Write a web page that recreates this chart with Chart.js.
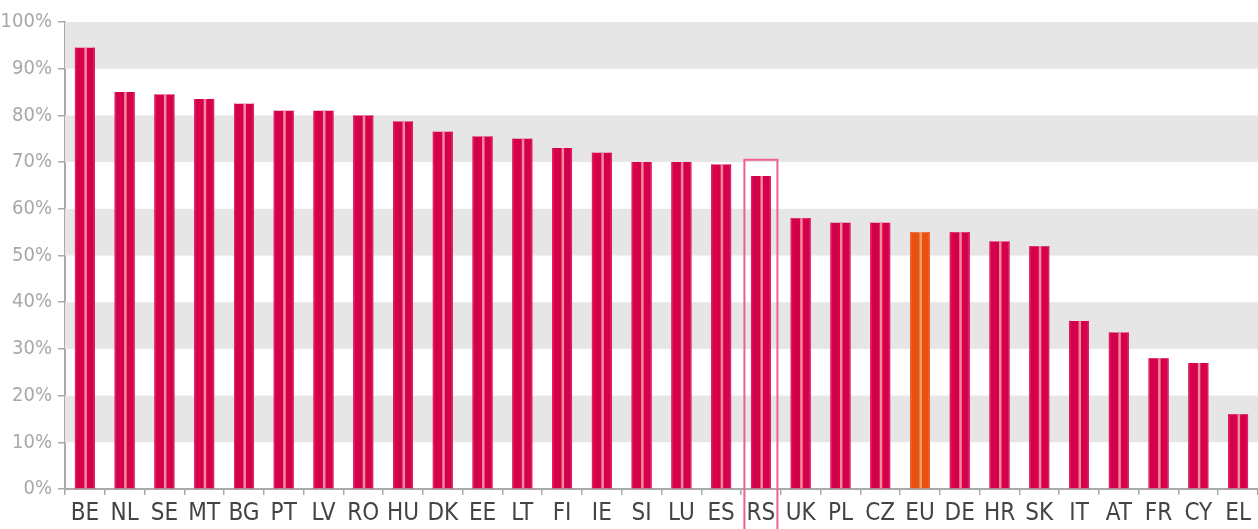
<!DOCTYPE html>
<html lang="en">
<head>
    <meta charset="UTF-8">
    <title>Share by country</title>
    <script src="https://cdn.jsdelivr.net/npm/chart.js@4/dist/chart.umd.min.js"></script>
    <style>
        html, body { margin: 0; padding: 0; background: #fff; }
        .chart-container { position: relative; width: 1258px; height: 529px; }
    </style>
</head>
<body>
    <div class="chart-container">
        <canvas id="shareChart"></canvas>
    </div>

    <script>
        // Data
        const countries = ['BE', 'NL', 'SE', 'MT', 'BG', 'PT', 'LV', 'RO', 'HU', 'DK', 'EE', 'LT', 'FI', 'IE', 'SI',
                           'LU', 'ES', 'RS', 'UK', 'PL', 'CZ', 'EU', 'DE', 'HR', 'SK', 'IT', 'AT', 'FR', 'CY', 'EL'];
        const shares = [94.5, 85, 84.5, 83.5, 82.5, 81, 81, 80, 78.7, 76.5, 75.5, 75, 73, 72, 70,
                        70, 69.5, 67, 58, 57, 57, 55, 55, 53, 52, 36, 33.5, 28, 27, 16];
        const yTicks = [0, 10, 20, 30, 40, 50, 60, 70, 80, 90, 100];
        const shadedBands = [[10, 20], [30, 40], [50, 60], [70, 80], [90, 100]];
        const highlightCountry = 'RS';
        const averageCountry = 'EU';

        const RED = '#d4004b';
        const ORANGE = '#e8510f';

        const labelFont = "'Liberation Sans Narrow', 'DejaVu Sans Condensed', 'Roboto Condensed', sans-serif";

        // grey stripes behind the bars
        const bandsPlugin = {
            id: 'bands',
            beforeDatasetsDraw(chart) {
                const { ctx, chartArea, scales: { y } } = chart;
                ctx.save();
                ctx.fillStyle = '#e6e6e6';
                shadedBands.forEach(([lo, hi]) => {
                    const top = y.getPixelForValue(hi);
                    const bottom = y.getPixelForValue(lo);
                    ctx.fillRect(chartArea.left, top, chartArea.right - chartArea.left, bottom - top);
                });
                ctx.restore();
            }
        };

        // light shine line down the middle of every bar
        const shinePlugin = {
            id: 'shine',
            afterDatasetsDraw(chart) {
                const { ctx } = chart;
                const meta = chart.getDatasetMeta(0);
                ctx.save();
                meta.data.forEach((bar, i) => {
                    const isEU = countries[i] === averageCountry;
                    const w = bar.width;
                    const left = bar.x - w / 2;
                    const h = bar.base - bar.y;
                    ctx.fillStyle = isEU ? '#ee6a2a' : '#e0205e';
                    ctx.fillRect(left, bar.y, 1.5, h);
                    ctx.fillRect(left + w - 1.5, bar.y, 1.5, h);
                    ctx.fillStyle = isEU ? '#f5a070' : '#f4899c';
                    ctx.fillRect(bar.x - 0.5, bar.y, 2.5, h);
                });
                ctx.restore();
            }
        };

        // pink frame round the highlighted country and its label
        const framePlugin = {
            id: 'frame',
            afterDraw(chart) {
                const { ctx, scales: { x, y } } = chart;
                const idx = countries.indexOf(highlightCountry);
                const cx = x.getPixelForValue(idx);
                const top = y.getPixelForValue(shares[idx] + 3.5);
                ctx.save();
                ctx.strokeStyle = '#f0608e';
                ctx.lineWidth = 2;
                ctx.strokeRect(cx - 16.5, top, 33, chart.height - top + 5);
                ctx.restore();
            }
        };

        const ctx = document.getElementById('shareChart').getContext('2d');
        new Chart(ctx, {
            type: 'bar',
            data: {
                labels: countries,
                datasets: [{
                    data: shares,
                    backgroundColor: countries.map(c => c === averageCountry ? ORANGE : RED),
                    borderWidth: 0,
                    barPercentage: 0.5,
                    categoryPercentage: 1.0
                }]
            },
            options: {
                responsive: true,
                maintainAspectRatio: false,
                animation: false,
                layout: { padding: { top: 22, right: 0, left: 0, bottom: 0 } },
                plugins: {
                    legend: { display: false },
                    tooltip: { enabled: false }
                },
                scales: {
                    x: {
                        afterFit(scale) { scale.height = 40; },
                        border: { color: '#aaaaaa', width: 2 },
                        grid: { drawOnChartArea: false, drawTicks: true, tickLength: 6, color: '#aaaaaa', lineWidth: 1.5 },
                        ticks: {
                            color: '#444444',
                            padding: 4,
                            maxRotation: 0,
                            autoSkip: false,
                            font: { family: labelFont, size: 24 }
                        }
                    },
                    y: {
                        min: 0,
                        max: 100,
                        afterFit(scale) { scale.width = 65; },
                        afterBuildTicks(scale) { scale.ticks = yTicks.map(v => ({ value: v })); },
                        border: { color: '#aaaaaa', width: 2 },
                        grid: { drawOnChartArea: false, drawTicks: true, tickLength: 7, color: '#aaaaaa', lineWidth: 1.5 },
                        ticks: {
                            color: '#a8a8a8',
                            padding: 6,
                            font: { family: labelFont, size: 20 },
                            callback: v => v + '%'
                        }
                    }
                }
            },
            plugins: [bandsPlugin, shinePlugin, framePlugin]
        });
    </script>
</body>
</html>
